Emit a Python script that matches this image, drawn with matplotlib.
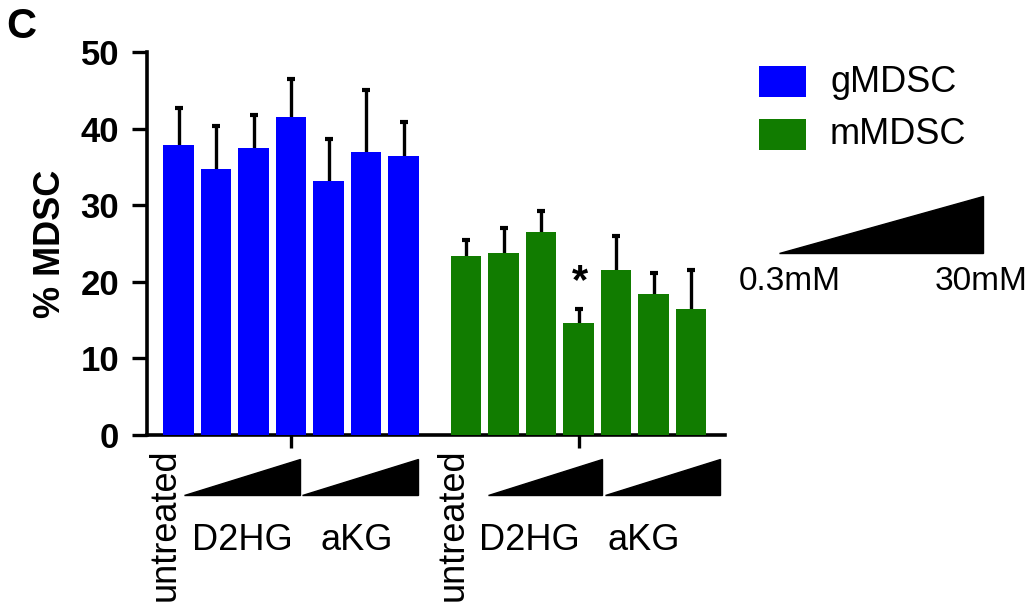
import matplotlib.pyplot as plt
from matplotlib.patches import Polygon, Rectangle
import numpy as np

plt.rcParams['font.family'] = ['Liberation Sans', 'DejaVu Sans']

# data
groups = ['gMDSC', 'mMDSC']
colors = ['#0000ff', '#117c00']
conditions = ['untreated', 'D2HG', 'D2HG', 'D2HG', 'aKG', 'aKG', 'aKG']
gmdsc_mean = [37.9, 34.7, 37.5, 41.5, 33.2, 37.0, 36.4]
gmdsc_err = [4.8, 5.6, 4.3, 5.0, 5.4, 8.0, 4.4]
mmdsc_mean = [23.4, 23.8, 26.5, 14.6, 21.5, 18.4, 16.5]
mmdsc_err = [2.1, 3.2, 2.7, 1.8, 4.5, 2.8, 5.1]
dose_labels = ['0.3mM', '30mM']
yticks = [0, 10, 20, 30, 40, 50]

fig = plt.figure(figsize=(10.3, 6.15), dpi=100)
ax = fig.add_axes([147 / 1030, 1 - 435 / 615, (725 - 147) / 1030, (435 - 52) / 615])

x_blue = np.arange(7)
x_green = np.arange(7) + 7.667
width = 0.813
for xs, means, errs, c in [(x_blue, gmdsc_mean, gmdsc_err, colors[0]),
                           (x_green, mmdsc_mean, mmdsc_err, colors[1])]:
    ax.bar(xs, means, width=width, color=c, zorder=3)
    # error bars drawn behind the bars so only the upper half shows
    ax.errorbar(xs, means, yerr=errs, fmt='none', ecolor='black',
                elinewidth=2.4, capsize=3, capthick=3.0, zorder=2)

# significance star
ax.text(x_green[3] + 0.05, mmdsc_mean[3] + mmdsc_err[3] + 3.6, '*', ha='center', va='center',
        fontsize=30, fontweight='bold')

ax.set_xlim(-0.84, 14.57)
ax.set_ylim(0, 50)
ax.set_yticks(yticks)
ax.set_yticklabels([str(t) for t in yticks], fontsize=25, fontweight='bold')
ax.set_xticks([x_blue[3], x_green[3]])
ax.set_xticklabels(['', ''])
ax.tick_params(axis='y', length=11, width=2.4, pad=9)
ax.tick_params(axis='x', length=9, width=2.4)
for s in ['top', 'right']:
    ax.spines[s].set_visible(False)
for s in ['left', 'bottom']:
    ax.spines[s].set_linewidth(2.6)
ax.set_ylabel('% MDSC', fontsize=26, fontweight='bold', labelpad=9)

# dose wedges under the axis (data x, data y below zero)
wedge_x = [(0.147, 3.23), (3.29, 6.38), (8.25, 11.28), (11.37, 14.44)]
for x0, x1 in wedge_x:
    ax.add_patch(Polygon([[x0, -7.83], [x1, -7.83], [x1, -3.07]], closed=True,
                         facecolor='black', edgecolor='black', clip_on=False))

# group labels
for xs in (x_blue, x_green):
    ax.text(xs[0] - 0.35, -1.7, conditions[0], rotation=90, ha='center', va='top',
            fontsize=26)
    ax.text(xs[2] - 0.3, -13.8, conditions[1], ha='center', va='center', fontsize=26)
    ax.text(xs[5] - 0.25, -13.8, conditions[4], ha='center', va='center', fontsize=26)

# legend
for i, (name, c) in enumerate(zip(groups, colors)):
    y_top = 66 + i * 53
    fig.add_artist(Rectangle((759 / 1030, 1 - (y_top + 31) / 615), 47 / 1030, 31 / 615,
                             facecolor=c, edgecolor='none', transform=fig.transFigure))
    fig.text(830 / 1030, 1 - (y_top + 16) / 615, name, ha='left', va='center', fontsize=26)

fig.add_artist(Polygon([[779 / 1030, 1 - 253 / 615], [983 / 1030, 1 - 253 / 615],
                        [983 / 1030, 1 - 196 / 615]], closed=True, facecolor='black',
                       edgecolor='black', transform=fig.transFigure))
fig.text(790 / 1030, 1 - 282 / 615, dose_labels[0], ha='center', va='center', fontsize=24)
fig.text(981 / 1030, 1 - 282 / 615, dose_labels[1], ha='center', va='center', fontsize=24)

fig.text(6 / 1030, 1 - 27 / 615, 'C', ha='left', va='center', fontsize=30, fontweight='bold')

fig.savefig('out.png', dpi=100)
